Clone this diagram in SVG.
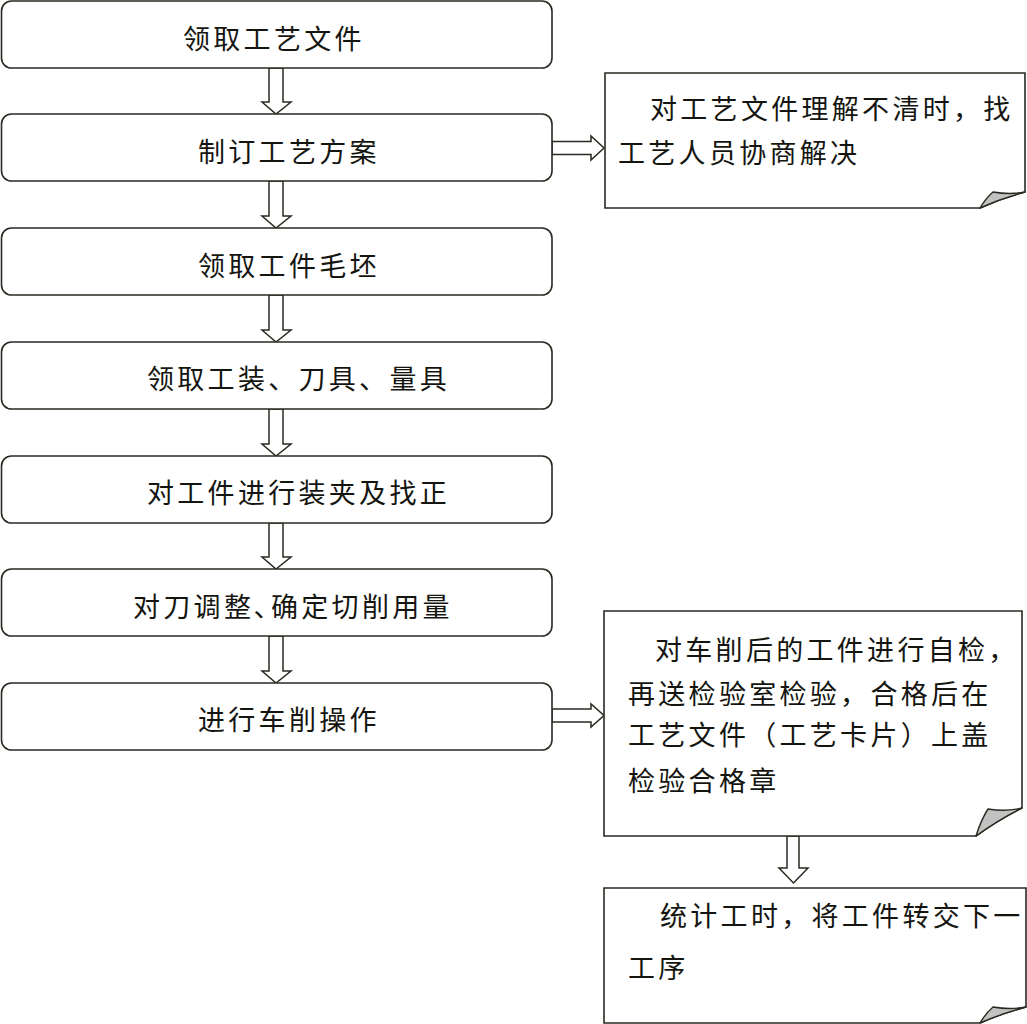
<svg xmlns="http://www.w3.org/2000/svg" width="1027" height="1024" viewBox="0 0 1027 1024">
<style>
.box{fill:#fff;stroke:#2a2a22;stroke-width:1.6}
.arr{fill:#fff;stroke:#2a2a22;stroke-width:1.5;stroke-linejoin:miter}
.flap{fill:#c2c2c2;stroke:#2a2a22;stroke-width:1.4;stroke-linejoin:round}
.t{font-family:"Noto Sans CJK SC","Noto Sans CJK JP",sans-serif;font-size:27px;letter-spacing:3.3px;fill:#151510}
</style>
<rect x="0" y="0" width="1027" height="1024" fill="#fff"/>
<g id="connectors">
<polygon class="arr" points="269,68 283,68 283,102 291,102 276,114 262,102 269,102"/>
<polygon class="arr" points="269,181 283,181 283,216 291,216 276,228 262,216 269,216"/>
<polygon class="arr" points="269,295 283,295 283,330 291,330 276,342 262,330 269,330"/>
<polygon class="arr" points="269,409 283,409 283,444 291,444 276,456 262,444 269,444"/>
<polygon class="arr" points="269,523 283,523 283,557 291,557 276,569 262,557 269,557"/>
<polygon class="arr" points="269,636 283,636 283,671 291,671 276,683 262,671 269,671"/>
<polygon class="arr" points="552,141.5 591,141.5 591,136 604,148 591,160 591,154.5 552,154.5"/>
<polygon class="arr" points="552,709 591,709 591,704 604,715.5 591,727 591,722 552,722"/>
<polygon class="arr" points="787,836 799,836 799,868 808,868 793.5,883 779,868 787,868"/>
</g>
<g id="n1"><rect class="box" x="1.5" y="1" width="550.5" height="67" rx="10"/><text class="t" x="183" y="49">领取工艺文件</text></g>
<g id="n2"><rect class="box" x="1.5" y="114" width="550.5" height="67" rx="10"/><text class="t" x="198" y="162">制订工艺方案</text></g>
<g id="n3"><rect class="box" x="1.5" y="228" width="550.5" height="67" rx="10"/><text class="t" x="198" y="276">领取工件毛坯</text></g>
<g id="n4"><rect class="box" x="1.5" y="342" width="550.5" height="67" rx="10"/><text class="t" x="147" y="389">领取工装、刀具、量具</text></g>
<g id="n5"><rect class="box" x="1.5" y="456" width="550.5" height="67" rx="10"/><text class="t" x="147" y="503">对工件进行装夹及找正</text></g>
<g id="n6"><rect class="box" x="1.5" y="569" width="550.5" height="67" rx="10"/><text class="t" x="133" y="617">对刀调整､确定切削用量</text></g>
<g id="n7"><rect class="box" x="1.5" y="683" width="550.5" height="67" rx="10"/><text class="t" x="198" y="730">进行车削操作</text></g>
<g id="note1">
<path class="box" d="M605,73 H1025 V192 Q1002,198 980,208 H605 Z"/>
<path class="flap" d="M980,208 Q986,198 993,192 Q1010,195 1025,192 Q1002,198 980,208 Z"/>
<text class="t" x="650" y="118.5">对工艺文件理解不清时，找</text>
<text class="t" x="618" y="163">工艺人员协商解决</text>
</g>
<g id="note2">
<path class="box" d="M604,611 H1022 V808 Q998,820 976,836 H604 Z"/>
<path class="flap" d="M976,836 Q981,820 988,809 Q1006,812 1022,808 Q998,820 976,836 Z"/>
<text class="t" x="655" y="660">对车削后的工件进行自检，</text>
<text class="t" x="628" y="704">再送检验室检验，合格后在</text>
<text class="t" x="628" y="745">工艺文件（工艺卡片）上盖</text>
<text class="t" x="628" y="791">检验合格章</text>
</g>
<g id="note3">
<path class="box" d="M604,888 H1026 V1007 Q1003,1013 980,1023 H604 Z"/>
<path class="flap" d="M980,1023 Q986,1013 993,1007 Q1010,1010 1026,1007 Q1003,1013 980,1023 Z"/>
<text class="t" x="660" y="926">统计工时，将工件转交下一</text>
<text class="t" x="628" y="978">工序</text>
</g>
</svg>
